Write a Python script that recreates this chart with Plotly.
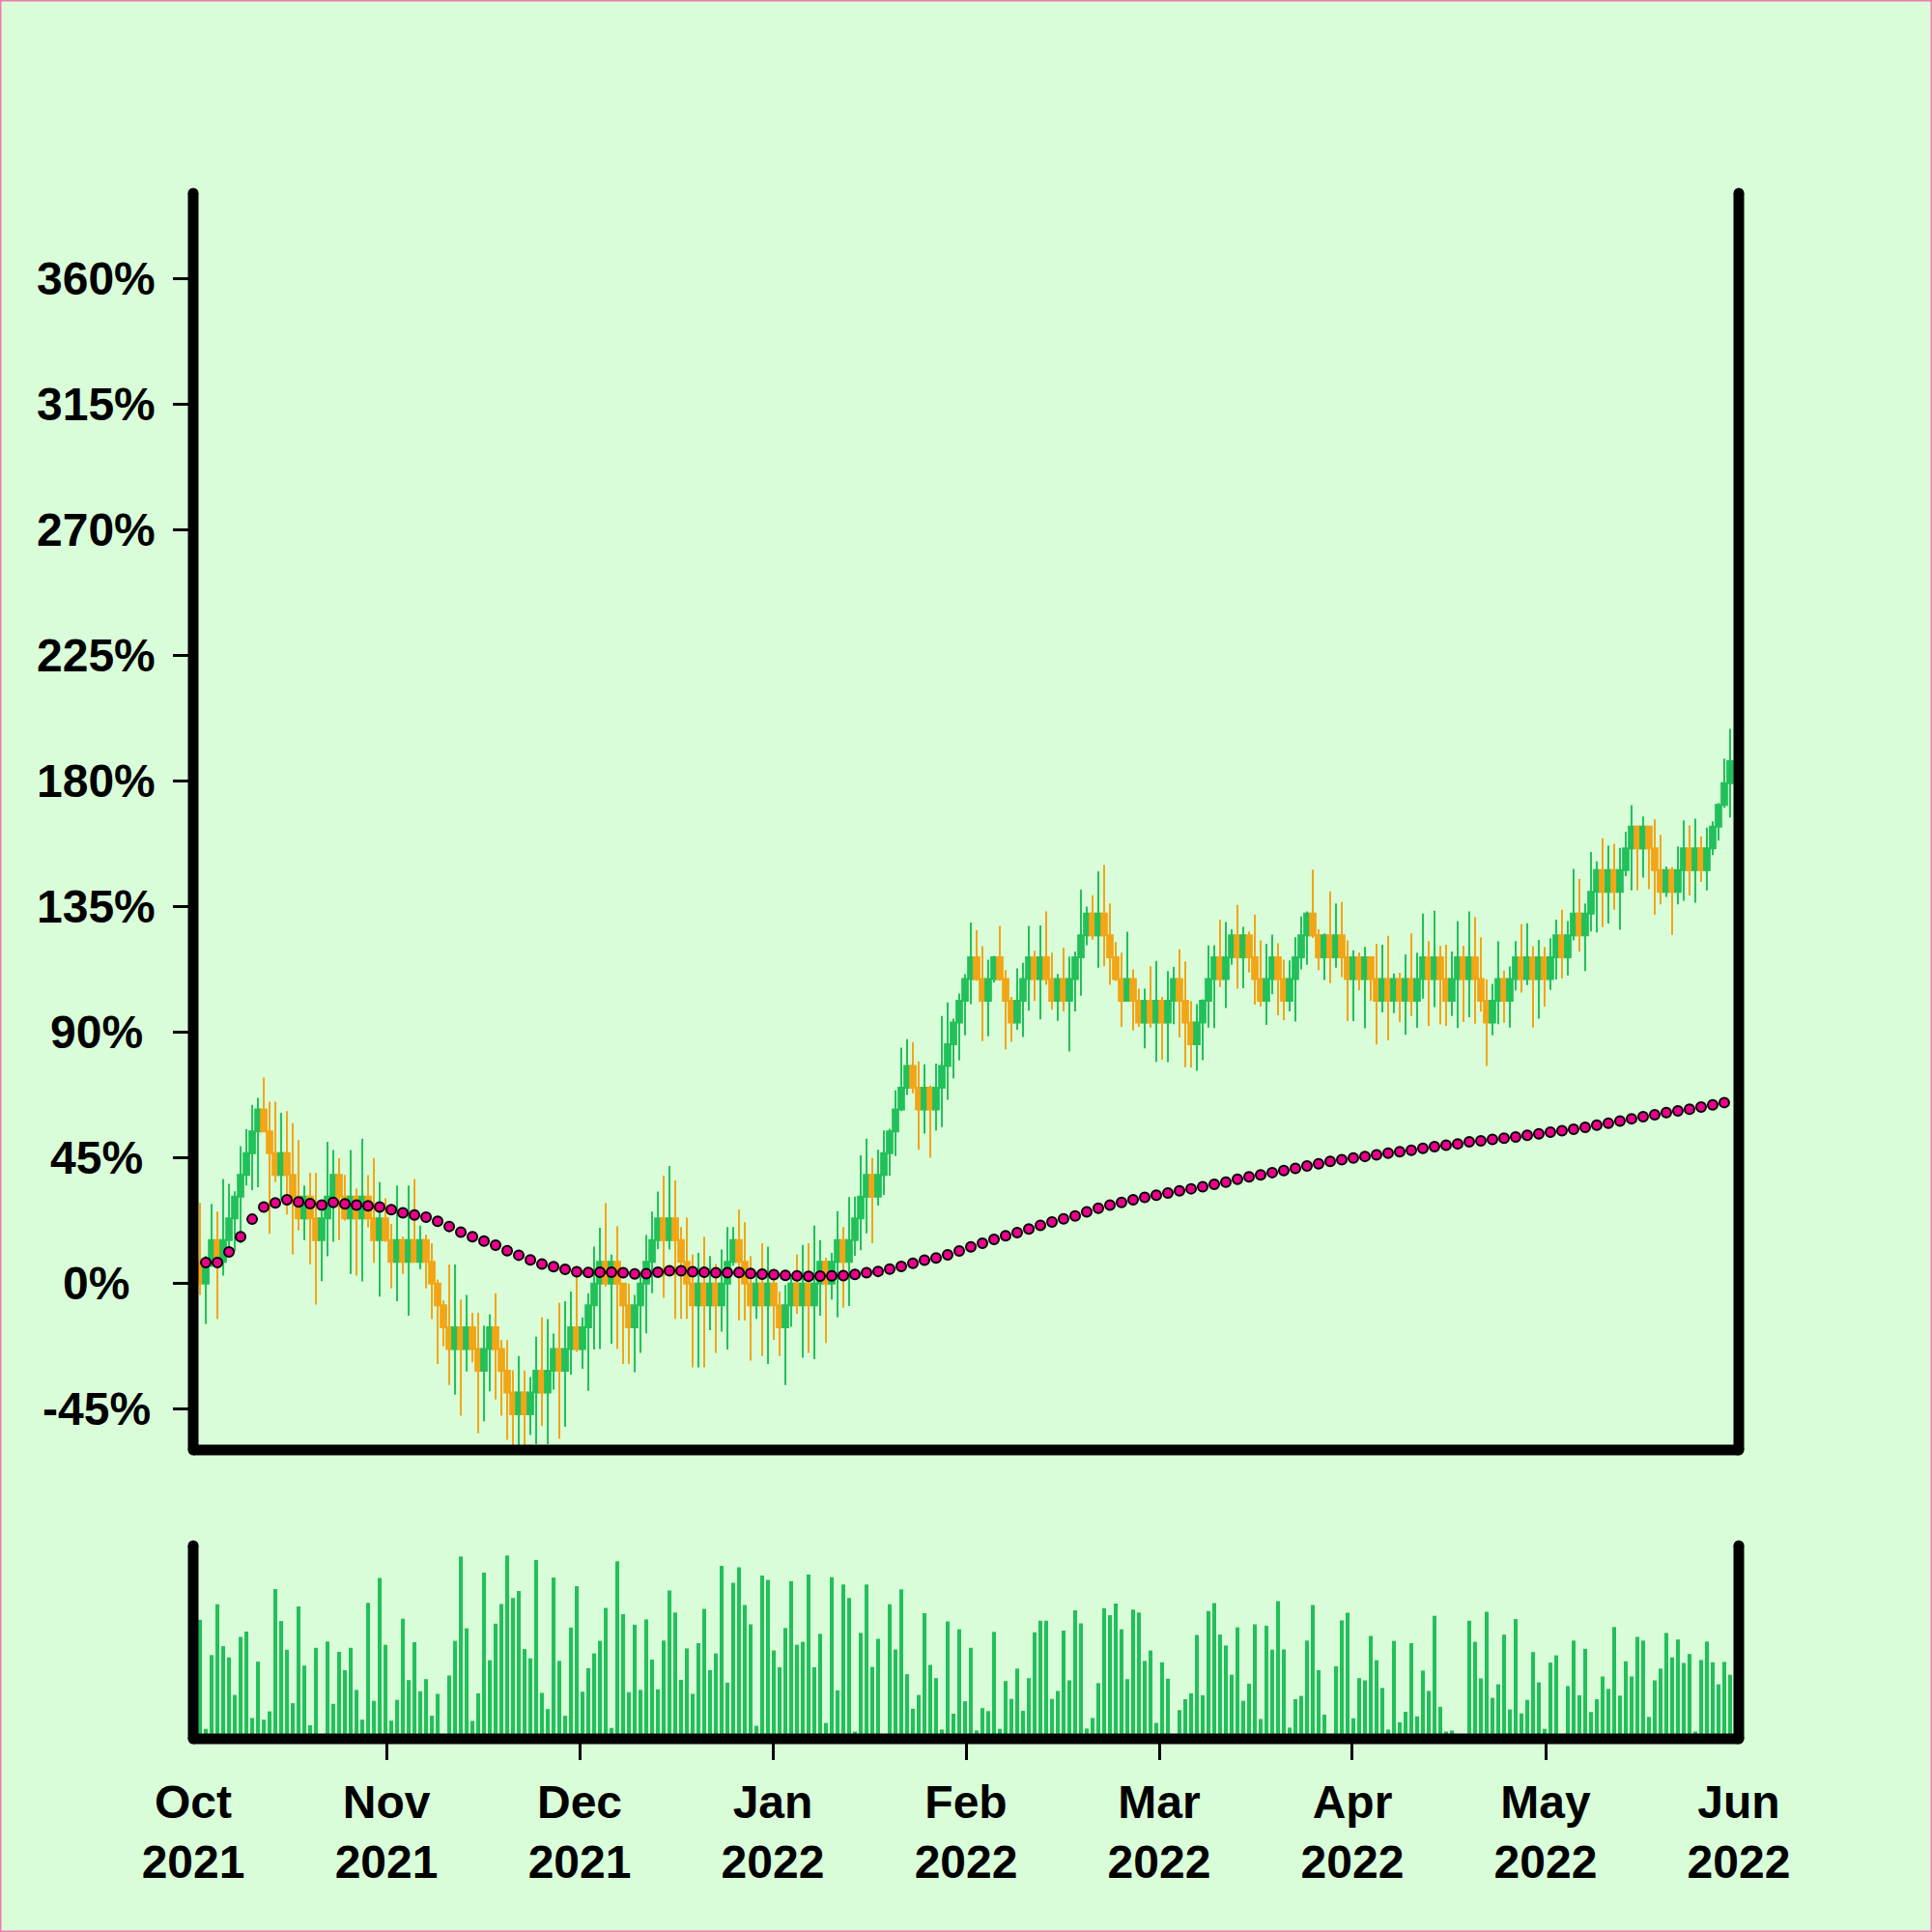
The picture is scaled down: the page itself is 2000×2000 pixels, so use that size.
import plotly.graph_objects as go

# ---------------- data ----------------
candle_index = list(range(265))

open_pct = [
    7.8, 0.0, 7.8, 15.6, 7.8, 15.6, 23.4, 31.2, 39.0, 46.8,
    54.6, 62.4, 54.6, 46.8, 39.0, 46.8, 39.0, 31.2, 23.4, 31.2,
    23.4, 15.6, 23.4, 31.2, 39.0, 31.2, 23.4, 31.2, 23.4, 31.2,
    23.4, 15.6, 23.4, 15.6, 7.8, 15.6, 7.8, 15.6, 7.8, 15.6,
    7.8, 0.0, -7.8, -15.6, -23.4, -15.6, -23.4, -15.6, -23.4, -31.2,
    -23.4, -15.6, -23.4, -31.2, -39.0, -46.8, -39.0, -46.8, -39.0, -31.2,
    -39.0, -31.2, -23.4, -31.2, -23.4, -15.6, -23.4, -15.6, -7.8, 0.0,
    7.8, 0.0, 7.8, 0.0, -7.8, -15.6, -7.8, 0.0, 7.8, 15.6,
    23.4, 15.6, 23.4, 15.6, 7.8, 0.0, -7.8, 0.0, -7.8, 0.0,
    -7.8, 0.0, 7.8, 15.6, 7.8, 0.0, -7.8, 0.0, -7.8, 0.0,
    -7.8, -15.6, -7.8, 0.0, -7.8, 0.0, -7.8, 0.0, 7.8, 0.0,
    7.8, 15.6, 7.8, 15.6, 23.4, 31.2, 39.0, 31.2, 39.0, 46.8,
    54.6, 62.4, 70.2, 78.0, 70.2, 62.4, 70.2, 62.4, 70.2, 78.0,
    85.8, 93.6, 101.4, 109.2, 117.0, 109.2, 101.4, 109.2, 117.0, 109.2,
    101.4, 93.6, 101.4, 109.2, 117.0, 109.2, 117.0, 109.2, 101.4, 109.2,
    101.4, 109.2, 117.0, 124.8, 132.6, 124.8, 132.6, 124.8, 117.0, 109.2,
    101.4, 109.2, 101.4, 93.6, 101.4, 93.6, 101.4, 93.6, 101.4, 109.2,
    101.4, 93.6, 85.8, 93.6, 101.4, 109.2, 117.0, 109.2, 117.0, 124.8,
    117.0, 124.8, 117.0, 109.2, 101.4, 109.2, 117.0, 109.2, 101.4, 109.2,
    117.0, 124.8, 132.6, 124.8, 117.0, 124.8, 117.0, 124.8, 117.0, 109.2,
    117.0, 109.2, 117.0, 109.2, 101.4, 109.2, 101.4, 109.2, 101.4, 109.2,
    101.4, 109.2, 117.0, 109.2, 117.0, 109.2, 101.4, 109.2, 117.0, 109.2,
    117.0, 109.2, 101.4, 93.6, 101.4, 109.2, 101.4, 109.2, 117.0, 109.2,
    117.0, 109.2, 117.0, 109.2, 117.0, 124.8, 117.0, 124.8, 132.6, 124.8,
    132.6, 140.4, 148.2, 140.4, 148.2, 140.4, 148.2, 156.0, 163.8, 156.0,
    163.8, 156.0, 148.2, 140.4, 148.2, 140.4, 148.2, 156.0, 148.2, 156.0,
    148.2, 156.0, 163.8, 171.6, 179.4,
]

close_pct = [
    0.0, 7.8, 15.6, 7.8, 15.6, 23.4, 31.2, 39.0, 46.8, 54.6,
    62.4, 54.6, 46.8, 39.0, 46.8, 39.0, 31.2, 23.4, 31.2, 23.4,
    15.6, 23.4, 31.2, 39.0, 31.2, 23.4, 31.2, 23.4, 31.2, 23.4,
    15.6, 23.4, 15.6, 7.8, 15.6, 7.8, 15.6, 7.8, 15.6, 7.8,
    0.0, -7.8, -15.6, -23.4, -15.6, -23.4, -15.6, -23.4, -31.2, -23.4,
    -15.6, -23.4, -31.2, -39.0, -46.8, -39.0, -46.8, -39.0, -31.2, -39.0,
    -31.2, -23.4, -31.2, -23.4, -15.6, -23.4, -15.6, -7.8, 0.0, 7.8,
    0.0, 7.8, 0.0, -7.8, -15.6, -7.8, 0.0, 7.8, 15.6, 23.4,
    15.6, 23.4, 15.6, 7.8, 0.0, -7.8, 0.0, -7.8, 0.0, -7.8,
    0.0, 7.8, 15.6, 7.8, 0.0, -7.8, 0.0, -7.8, 0.0, -7.8,
    -15.6, -7.8, 0.0, -7.8, 0.0, -7.8, 0.0, 7.8, 0.0, 7.8,
    15.6, 7.8, 15.6, 23.4, 31.2, 39.0, 31.2, 39.0, 46.8, 54.6,
    62.4, 70.2, 78.0, 70.2, 62.4, 70.2, 62.4, 70.2, 78.0, 85.8,
    93.6, 101.4, 109.2, 117.0, 109.2, 101.4, 109.2, 117.0, 109.2, 101.4,
    93.6, 101.4, 109.2, 117.0, 109.2, 117.0, 109.2, 101.4, 109.2, 101.4,
    109.2, 117.0, 124.8, 132.6, 124.8, 132.6, 124.8, 117.0, 109.2, 101.4,
    109.2, 101.4, 93.6, 101.4, 93.6, 101.4, 93.6, 101.4, 109.2, 101.4,
    93.6, 85.8, 93.6, 101.4, 109.2, 117.0, 109.2, 117.0, 124.8, 117.0,
    124.8, 117.0, 109.2, 101.4, 109.2, 117.0, 109.2, 101.4, 109.2, 117.0,
    124.8, 132.6, 124.8, 117.0, 124.8, 117.0, 124.8, 117.0, 109.2, 117.0,
    109.2, 117.0, 109.2, 101.4, 109.2, 101.4, 109.2, 101.4, 109.2, 101.4,
    109.2, 117.0, 109.2, 117.0, 109.2, 101.4, 109.2, 117.0, 109.2, 117.0,
    109.2, 101.4, 93.6, 101.4, 109.2, 101.4, 109.2, 117.0, 109.2, 117.0,
    109.2, 117.0, 109.2, 117.0, 124.8, 117.0, 124.8, 132.6, 124.8, 132.6,
    140.4, 148.2, 140.4, 148.2, 140.4, 148.2, 156.0, 163.8, 156.0, 163.8,
    156.0, 148.2, 140.4, 148.2, 140.4, 148.2, 156.0, 148.2, 156.0, 148.2,
    156.0, 163.8, 171.6, 179.4, 187.2,
]

high_pct = [
    28.9, 10.0, 28.6, 25.8, 37.5, 35.8, 33.1, 49.3, 55.4, 64.1,
    66.6, 73.9, 65.2, 65.2, 61.2, 61.8, 57.5, 51.4, 35.2, 39.8,
    39.8, 26.0, 50.8, 47.9, 45.0, 39.0, 47.9, 34.1, 52.0, 38.9,
    45.0, 36.4, 30.6, 21.4, 35.2, 16.8, 35.2, 37.5, 20.8, 17.6,
    14.5, 1.5, -6.0, 6.9, 6.9, -5.7, -4.0, -10.4, -10.4, -15.0,
    -11.0, -3.4, -20.2, -20.2, -31.0, -25.9, -31.1, -33.5, -19.0, -12.1,
    -12.7, -17.9, -6.9, -6.3, -2.8, 2.9, -12.1, -3.4, 13.3, 20.0,
    28.9, 10.4, 20.6, 0.1, 0.0, -4.0, 3.0, 17.4, 25.8, 33.0,
    38.7, 42.2, 37.0, 20.3, 23.7, 10.4, 11.0, 16.8, 9.9, 7.0,
    12.2, 20.3, 20.3, 26.6, 22.0, 9.9, 4.1, 14.5, 13.3, 4.7,
    -2.8, -0.5, 2.0, 10.4, 13.9, 14.5, 20.8, 15.6, 9.3, 11.0,
    26.0, 20.3, 31.0, 31.2, 46.0, 52.0, 45.0, 48.0, 54.9, 55.5,
    69.3, 84.6, 87.6, 86.6, 79.7, 78.6, 71.0, 78.9, 95.9, 100.8,
    95.0, 104.0, 110.9, 129.4, 126.7, 120.9, 116.1, 117.5, 128.2, 112.4,
    102.8, 113.0, 115.0, 128.2, 119.3, 128.4, 133.4, 118.6, 111.0, 120.4,
    117.2, 119.0, 141.2, 135.1, 139.2, 147.8, 150.0, 136.3, 122.4, 118.6,
    126.1, 112.6, 105.7, 105.7, 113.8, 115.7, 102.8, 112.0, 113.5, 119.8,
    115.5, 101.3, 100.2, 101.9, 121.2, 121.3, 130.5, 129.6, 127.0, 135.7,
    127.9, 126.2, 132.3, 123.0, 121.8, 125.1, 122.0, 116.1, 115.8, 124.1,
    131.6, 133.4, 148.4, 127.0, 125.5, 140.6, 136.3, 136.8, 123.0, 119.5,
    118.7, 120.7, 117.2, 121.8, 121.5, 124.7, 111.2, 111.4, 118.0, 125.5,
    118.6, 132.6, 122.8, 133.7, 121.0, 121.5, 119.0, 129.9, 121.1, 133.4,
    131.4, 124.1, 109.1, 107.4, 122.7, 112.2, 113.7, 122.8, 128.8, 129.2,
    120.9, 123.2, 120.7, 123.8, 130.5, 134.0, 129.9, 148.6, 145.1, 136.3,
    154.7, 151.3, 159.6, 157.0, 157.6, 156.2, 162.0, 171.5, 164.2, 167.4,
    163.9, 166.5, 160.8, 149.5, 149.2, 156.7, 166.0, 164.2, 166.6, 160.3,
    163.4, 165.7, 172.3, 188.2, 198.8,
]

low_pct = [
    -4.0, -14.4, 6.0, -12.7, 2.9, 13.0, 11.6, 14.5, 35.2, 33.5,
    34.6, 54.3, 17.9, 36.4, 30.0, 24.8, 10.4, 19.1, 15.6, 6.9,
    -7.5, 0.9, 9.8, 15.0, 15.6, 22.5, 3.5, 2.9, 0.8, 20.2,
    7.5, -4.6, 15.0, -1.7, -6.3, 3.5, -11.5, 7.5, 5.2, -1.7,
    -12.7, -28.8, -22.5, -36.3, -39.8, -47.3, -31.5, -28.2, -53.6, -49.3,
    -38.6, -41.5, -47.3, -56.0, -58.0, -59.0, -59.0, -54.2, -57.5, -51.0,
    -57.5, -38.0, -55.6, -51.3, -32.6, -24.5, -30.5, -38.4, -23.6, -23.4,
    -1.1, -21.5, -23.4, -28.8, -28.8, -31.7, -24.8, -17.8, -3.4, 12.4,
    -5.1, 12.2, -12.6, -12.6, -12.6, -30.0, -30.0, -30.0, -16.7, -24.8,
    -17.2, -23.6, 6.4, -13.2, -13.2, -27.6, -12.6, -25.9, -28.8, -20.1,
    -25.9, -36.3, -15.5, -10.9, -26.5, -24.8, -27.1, -11.5, -21.3, -5.7,
    -12.1, -8.6, -8.0, 10.0, 12.0, 18.0, 14.5, 28.0, 31.8, 38.7,
    45.7, 61.8, 67.6, 68.2, 48.0, 53.8, 45.1, 54.9, 56.1, 65.9,
    73.6, 80.0, 89.0, 100.2, 108.6, 86.9, 88.7, 108.0, 108.6, 84.0,
    86.7, 91.0, 88.4, 97.8, 101.3, 94.7, 107.1, 98.2, 94.2, 97.6,
    83.2, 97.6, 103.2, 121.3, 123.2, 113.2, 113.8, 107.1, 108.6, 92.0,
    101.1, 90.7, 92.0, 84.3, 91.8, 79.5, 80.3, 79.4, 93.0, 88.2,
    77.6, 77.4, 76.3, 80.1, 91.8, 91.6, 106.3, 98.8, 114.3, 105.7,
    105.9, 111.5, 100.0, 99.3, 92.7, 103.7, 96.2, 94.4, 97.6, 93.9,
    112.6, 114.3, 123.9, 112.4, 108.8, 107.7, 113.2, 109.9, 94.1, 94.1,
    105.1, 91.5, 101.4, 85.7, 97.2, 87.2, 97.0, 93.8, 89.2, 95.9,
    91.7, 102.2, 92.4, 99.1, 92.9, 92.4, 95.9, 91.6, 93.8, 95.5,
    93.2, 97.6, 78.0, 89.0, 93.0, 93.5, 91.8, 105.1, 104.3, 107.0,
    91.8, 95.0, 99.3, 105.3, 109.0, 109.4, 110.5, 123.0, 119.0, 112.0,
    126.2, 125.9, 127.8, 129.1, 134.0, 126.8, 146.0, 140.9, 140.9, 145.5,
    141.4, 132.2, 135.9, 138.6, 125.0, 135.9, 137.2, 139.1, 136.5, 144.0,
    140.9, 153.6, 158.8, 170.5, 167.1,
]

volume = [
    123.2, 10.3, 86.7, 139.3, 95.9, 84.3, 45.4, 105.5, 111.0, 21.5,
    79.9, 19.8, 28.4, 155.0, 121.9, 92.2, 36.9, 136.9, 75.8, 14.0,
    94.2, 0.0, 100.7, 36.2, 90.1, 71.0, 94.2, 50.6, 19.8, 140.7,
    39.3, 166.6, 97.3, 18.8, 40.3, 124.3, 60.8, 100.0, 49.2, 61.8,
    23.9, 46.5, 0.0, 65.6, 101.4, 188.8, 114.4, 18.5, 47.1, 172.1,
    81.3, 119.2, 139.6, 189.8, 145.8, 152.9, 92.9, 83.3, 185.0, 47.5,
    30.8, 166.9, 80.6, 23.9, 115.1, 158.1, 48.8, 73.1, 88.4, 101.4,
    135.5, 11.3, 183.7, 129.1, 48.2, 118.1, 50.6, 123.6, 82.0, 51.2,
    101.7, 153.6, 130.8, 61.1, 93.6, 46.5, 99.0, 134.5, 71.0, 88.4,
    178.9, 58.1, 161.5, 177.5, 138.6, 118.5, 13.4, 169.0, 164.5, 91.5,
    74.1, 114.7, 163.2, 97.3, 100.4, 170.0, 74.1, 108.6, 16.4, 167.3,
    50.2, 159.8, 145.8, 7.5, 109.6, 159.8, 74.4, 103.5, 0.0, 139.3,
    92.5, 154.7, 66.9, 31.1, 45.4, 130.1, 76.5, 62.8, 9.6, 121.5,
    26.0, 113.4, 38.9, 94.2, 8.6, 31.8, 28.7, 110.6, 10.3, 59.8,
    41.3, 72.7, 29.0, 62.8, 110.3, 122.2, 122.2, 41.3, 49.5, 112.0,
    60.5, 133.1, 119.5, 10.6, 21.5, 57.7, 135.2, 128.0, 140.0, 113.4,
    61.8, 133.8, 130.8, 80.6, 91.5, 16.4, 79.2, 62.2, 0.0, 29.7,
    41.0, 47.1, 107.5, 45.1, 132.3, 140.5, 107.9, 96.6, 66.3, 115.4,
    39.3, 57.0, 118.5, 20.5, 117.1, 92.2, 142.4, 92.5, 11.6, 41.0,
    44.4, 101.7, 138.6, 71.0, 25.0, 0.0, 75.1, 122.6, 130.4, 21.2,
    62.8, 60.5, 106.5, 81.3, 52.6, 9.6, 101.4, 17.1, 28.0, 99.0,
    23.2, 70.7, 49.5, 127.3, 33.1, 7.5, 8.6, 0.0, 0.0, 122.2,
    100.4, 62.5, 131.4, 42.4, 56.4, 107.9, 30.4, 123.9, 26.3, 40.3,
    89.8, 58.4, 10.3, 78.9, 86.4, 0.0, 54.6, 101.7, 45.1, 93.2,
    27.7, 41.0, 64.5, 51.6, 115.7, 44.7, 80.2, 64.5, 105.5, 101.7,
    22.6, 60.5, 72.7, 109.6, 84.3, 102.8, 78.5, 87.8, 7.5, 81.6,
    100.7, 79.2, 56.4, 79.6, 66.3,
]

ma_index = list(range(1, 264, 2))
ma_pct = [
    7.6, 7.6, 11.4, 16.8, 23.1, 27.5, 28.9, 30.1, 29.3, 28.7,
    28.2, 29.1, 28.6, 28.2, 27.9, 27.5, 26.5, 25.4, 24.6, 23.8,
    22.4, 20.5, 18.5, 16.8, 15.3, 13.8, 11.8, 10.2, 8.5, 7.0,
    6.1, 5.1, 4.3, 4.0, 4.1, 4.1, 3.9, 3.5, 3.6, 4.1,
    4.6, 4.6, 4.3, 4.1, 3.9, 3.9, 4.0, 3.7, 3.4, 3.2,
    3.0, 2.8, 2.6, 2.7, 2.8, 2.9, 3.3, 3.9, 4.4, 5.2,
    6.2, 7.3, 8.4, 9.2, 10.3, 11.7, 13.2, 14.5, 15.9, 17.2,
    18.3, 19.6, 20.9, 22.1, 23.2, 24.3, 25.7, 27.0, 28.2, 29.1,
    30.1, 30.9, 31.7, 32.5, 33.3, 34.0, 34.7, 35.6, 36.4, 37.4,
    38.3, 39.0, 39.8, 40.5, 41.3, 42.2, 43.0, 43.8, 44.4, 45.0,
    45.6, 46.2, 46.8, 47.3, 47.8, 48.5, 49.1, 49.6, 50.1, 50.8,
    51.2, 51.7, 52.1, 52.6, 53.2, 53.7, 54.3, 54.8, 55.3, 56.0,
    56.8, 57.5, 58.3, 59.1, 59.8, 60.5, 61.3, 61.9, 62.5, 63.3,
    64.1, 64.9,
]

y_tick_values = [-45, 0, 45, 90, 135, 180, 225, 270, 315, 360]
y_tick_labels = ["-45%", "0%", "45%", "90%", "135%", "180%", "225%", "270%", "315%", "360%"]
month_labels = ["Oct<br>2021", "Nov<br>2021", "Dec<br>2021", "Jan<br>2022", "Feb<br>2022",
                "Mar<br>2022", "Apr<br>2022", "May<br>2022", "Jun<br>2022"]
month_tick_pos = [-1.17, 32.17, 65.5, 98.83, 132.17, 165.5, 198.83, 232.17, 265.5]

# ---------------- style ----------------
BG = "#D9FDD8"
GREEN = "#22C05A"
ORANGE = "#F2A516"
MAGENTA = "#E8008A"
FONT = "Liberation Sans, Arial, Helvetica, sans-serif"
X_RANGE = [-1.175, 265.505]
PLOT_PX = 1600.0          # plot area size in pixels (square)
LW = 11                   # frame line width
MAIN_BOTTOM = 0.186875    # paper y of main panel bottom
VOL_TOP = 0.125           # paper y of volume panel top

fig = go.Figure()

fig.add_trace(go.Candlestick(
    x=candle_index, open=open_pct, high=high_pct, low=low_pct, close=close_pct,
    increasing=dict(line=dict(color=GREEN, width=2), fillcolor=GREEN),
    decreasing=dict(line=dict(color=ORANGE, width=2), fillcolor=ORANGE),
    whiskerwidth=0, xaxis="x", yaxis="y", showlegend=False, hoverinfo="skip",
))

fig.add_trace(go.Scatter(
    x=ma_index, y=ma_pct, mode="markers", xaxis="x", yaxis="y",
    marker=dict(size=10, color=MAGENTA, line=dict(color="black", width=2)),
    showlegend=False, hoverinfo="skip",
))

fig.add_trace(go.Bar(
    x=candle_index, y=volume, xaxis="x2", yaxis="y2",
    marker=dict(color=GREEN, line=dict(width=0)),
    showlegend=False, hoverinfo="skip",
))

axis_common = dict(showgrid=False, zeroline=False, showline=False)

fig.update_layout(
    width=2000, height=2000, autosize=False,
    margin=dict(l=200, r=200, t=200, b=200, pad=0),
    paper_bgcolor=BG, plot_bgcolor=BG,
    font=dict(family=FONT, size=48, color="black"),
    boxgap=0.05, boxgroupgap=0, bargap=0.33,
    xaxis=dict(domain=[0, 1], anchor="y", range=X_RANGE, ticks="",
               showticklabels=False, rangeslider=dict(visible=False), **axis_common),
    yaxis=dict(domain=[MAIN_BOTTOM, 1], anchor="x", range=[-59.6, 390.8],
               ticks="outside", ticklen=20, tickwidth=3, tickcolor="black",
               tickvals=y_tick_values, showticklabels=False, **axis_common),
    xaxis2=dict(domain=[0, 1], anchor="y2", range=X_RANGE, ticks="",
                tickvals=month_tick_pos, ticktext=month_labels, ticklabelstandoff=33,
                tickfont=dict(family=FONT, size=48, color="black", weight="bold"),
                minor=dict(tickmode="array", tickvals=month_tick_pos[1:-1], ticks="outside",
                           ticklen=21, tickwidth=3, tickcolor="black", showgrid=False),
                **axis_common),
    yaxis2=dict(domain=[0, VOL_TOP], anchor="x2", range=[0, 200],
                ticks="", showticklabels=False, **axis_common),
)

annotations = []
for v, lab in zip(y_tick_values, y_tick_labels):
    annotations.append(dict(
        x=-0.0628, xref="paper", y=v, yref="y", text=lab, showarrow=False,
        xanchor="center", yanchor="middle",
        font=dict(family=FONT, size=48, color="black", weight="bold"),
    ))
fig.update_layout(annotations=annotations)

# frame lines (drawn centred on the panel edges, with round joins/caps)
shapes = []
line_style = dict(color="black", width=LW)
r = (LW / 2.0) / PLOT_PX
frame_segments = [
    (0, MAIN_BOTTOM, 0, 1), (1, MAIN_BOTTOM, 1, 1), (0, MAIN_BOTTOM, 1, MAIN_BOTTOM),
    (0, 0, 0, VOL_TOP), (1, 0, 1, VOL_TOP), (0, 0, 1, 0),
]
for x0, y0, x1, y1 in frame_segments:
    shapes.append(dict(type="line", xref="paper", yref="paper", x0=x0, y0=y0, x1=x1, y1=y1,
                       line=line_style, layer="above"))
corner_points = [(0, 1), (1, 1), (0, MAIN_BOTTOM), (1, MAIN_BOTTOM),
                 (0, VOL_TOP), (1, VOL_TOP), (0, 0), (1, 0)]
for cx, cy in corner_points:
    shapes.append(dict(type="circle", xref="paper", yref="paper",
                       x0=cx - r, x1=cx + r, y0=cy - r, y1=cy + r,
                       fillcolor="black", line=dict(width=0), layer="above"))
shapes.append(dict(type="rect", xref="paper", yref="paper",
                   x0=-0.1247, x1=1.1247, y0=-0.1247, y1=1.1247,
                   line=dict(color="#F07AB0", width=2), layer="above"))
fig.update_layout(shapes=shapes)

fig.write_html("out.html", config={"displayModeBar": False},
               post_script="document.body.style.margin='0px';")
